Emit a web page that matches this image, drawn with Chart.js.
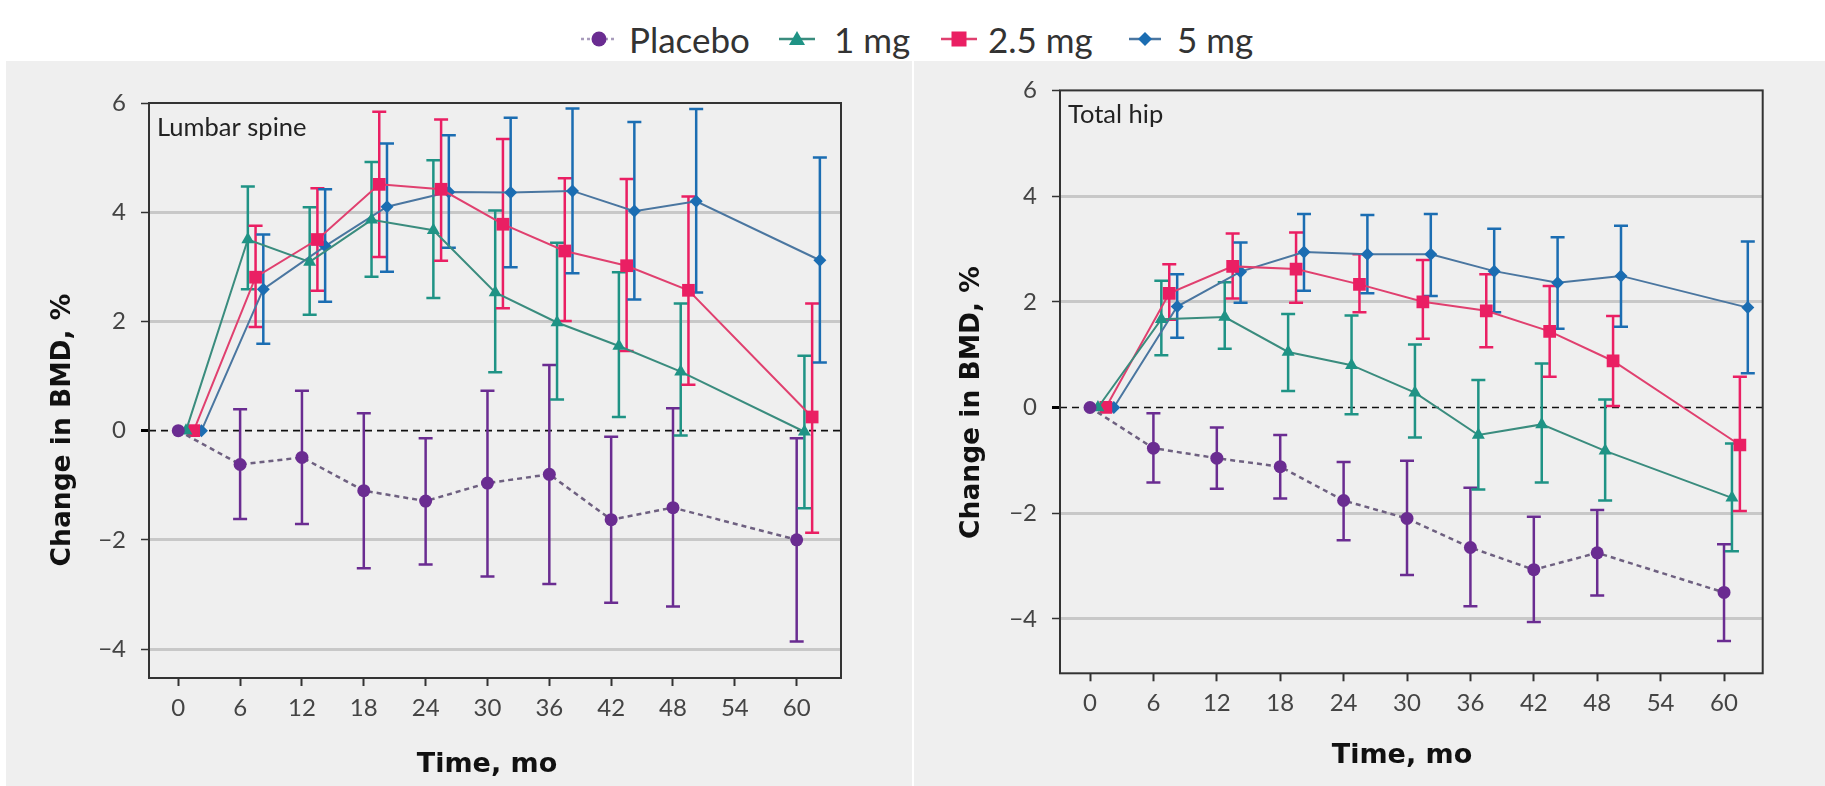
<!DOCTYPE html>
<html>
<head>
<meta charset="utf-8">
<script src="https://cdn.jsdelivr.net/npm/chart.js@4.4.1/dist/chart.umd.min.js"></script>
<style>
html,body{margin:0;padding:0;background:#fff;width:1825px;height:786px;overflow:hidden;font-family:Lato,sans-serif;}
.panel{position:absolute;background:#efefef;}
#p1{left:6px;top:61px;width:906px;height:725px;}
#p2{left:914px;top:61px;width:911px;height:725px;}
.icon{position:absolute;top:28px;}
.ltxt{position:absolute;top:22px;font-family:Lato,sans-serif;font-size:35px;line-height:35px;color:#333;white-space:nowrap;}
</style>
</head>
<body>
<div id="legend">
  <svg class="icon" style="left:581px" width="36" height="22"><line x1="0" y1="11" x2="36" y2="11" stroke="#a89cbc" stroke-width="2.5" stroke-dasharray="3,3"/><circle cx="18" cy="11" r="7.5" fill="#6a2c91"/></svg>
  <span class="ltxt" style="left:629px">Placebo</span>
  <svg class="icon" style="left:779px" width="36" height="22"><line x1="0" y1="11" x2="36" y2="11" stroke="#3a8c7e" stroke-width="2.5"/><polygon points="18,3 26,17 10,17" fill="#1f9385"/></svg>
  <span class="ltxt" style="left:834px">1 mg</span>
  <svg class="icon" style="left:941px" width="36" height="22"><line x1="0" y1="11" x2="36" y2="11" stroke="#e0406f" stroke-width="2.5"/><rect x="10.5" y="3.5" width="15" height="15" fill="#ea1f63"/></svg>
  <span class="ltxt" style="left:988px">2.5 mg</span>
  <svg class="icon" style="left:1129px" width="32" height="22"><line x1="0" y1="11" x2="32" y2="11" stroke="#4a76a0" stroke-width="2.5"/><polygon points="16,4 23,11 16,18 9,11" fill="#1b6db2"/></svg>
  <span class="ltxt" style="left:1177px">5 mg</span>
</div>
<div class="panel" id="p1"><canvas id="c1" width="906" height="725"></canvas></div>
<div class="panel" id="p2"><canvas id="c2" width="911" height="725"></canvas></div>
<script>
// ---------- DATA ----------
const months = [0, 6, 12, 18, 24, 30, 36, 42, 48, 60];
const monthTicks = [0, 6, 12, 18, 24, 30, 36, 42, 48, 54, 60];
const yTicks = [-4, -2, 0, 2, 4, 6];
const seriesNames = ['Placebo', '1 mg', '2.5 mg', '5 mg'];

// Lumbar spine
const spinePlacebo   = [0, -0.62, -0.49, -1.10, -1.29, -0.96, -0.80, -1.63, -1.41, -2.00];
const spinePlaceboLo = [null, -1.62, -1.71, -2.52, -2.45, -2.67, -2.81, -3.15, -3.22, -3.86];
const spinePlaceboHi = [null, 0.39, 0.73, 0.32, -0.14, 0.73, 1.20, -0.11, 0.41, -0.14];
const spine1mg       = [0, 3.50, 3.09, 3.86, 3.67, 2.53, 1.98, 1.55, 1.08, -0.02];
const spine1mgLo     = [null, 2.59, 2.12, 2.82, 2.43, 1.07, 0.57, 0.25, -0.09, -1.42];
const spine1mgHi     = [null, 4.47, 4.09, 4.92, 4.95, 4.03, 3.44, 2.90, 2.33, 1.37];
const spine25mg      = [0, 2.81, 3.50, 4.51, 4.42, 3.78, 3.29, 3.02, 2.57, 0.25];
const spine25mgLo    = [null, 1.90, 2.56, 3.18, 3.11, 2.24, 2.01, 1.46, 0.84, -1.87];
const spine25mgHi    = [null, 3.75, 4.44, 5.84, 5.70, 5.34, 4.62, 4.61, 4.29, 2.33];
const spine5mg       = [0, 2.59, 3.38, 4.10, 4.37, 4.36, 4.39, 4.02, 4.20, 3.12];
const spine5mgLo     = [null, 1.59, 2.36, 2.91, 3.35, 2.99, 2.88, 2.40, 2.53, 1.25];
const spine5mgHi     = [null, 3.59, 4.42, 5.26, 5.41, 5.73, 5.90, 5.65, 5.89, 5.00];

// Total hip
const hipPlacebo   = [0, -0.77, -0.96, -1.12, -1.76, -2.10, -2.65, -3.07, -2.75, -3.50];
const hipPlaceboLo = [null, -1.42, -1.54, -1.72, -2.51, -3.17, -3.76, -4.06, -3.56, -4.42];
const hipPlaceboHi = [null, -0.11, -0.38, -0.52, -1.03, -1.01, -1.52, -2.07, -1.94, -2.59];
const hip1mg       = [0, 1.67, 1.71, 1.05, 0.80, 0.28, -0.52, -0.32, -0.82, -1.71];
const hip1mgLo     = [null, 0.99, 1.11, 0.31, -0.13, -0.57, -1.55, -1.42, -1.76, -2.72];
const hip1mgHi     = [null, 2.40, 2.37, 1.77, 1.74, 1.19, 0.52, 0.83, 0.15, -0.68];
const hip25mg      = [0, 2.16, 2.67, 2.62, 2.33, 2.00, 1.83, 1.44, 0.88, -0.71];
const hip25mgLo    = [null, 1.66, 2.06, 1.98, 1.80, 1.30, 1.14, 0.58, 0.03, -1.96];
const hip25mgHi    = [null, 2.71, 3.29, 3.31, 2.90, 2.79, 2.52, 2.30, 1.73, 0.58];
const hip5mg       = [0, 1.91, 2.57, 2.94, 2.90, 2.90, 2.58, 2.36, 2.49, 1.89];
const hip5mgLo     = [null, 1.32, 1.98, 2.21, 2.16, 2.11, 1.80, 1.49, 1.53, 0.65];
const hip5mgHi     = [null, 2.52, 3.12, 3.66, 3.64, 3.66, 3.38, 3.22, 3.44, 3.14];

// horizontal dodge per series (months)
const dodge = [0, 0.75, 1.5, 2.25];

// ---------- STYLES ----------
const styles = [
  {borderColor:'#6e6080', borderWidth:2.5, borderDash:[5,4], pointStyle:'circle', pointRadius:6.5, pointBackgroundColor:'#6a2c91', pointBorderColor:'#6a2c91', barColor:'#6a2c91'},
  {borderColor:'#3a8c7e', borderWidth:2, pointStyle:'triangle', pointRadius:7.5, pointBackgroundColor:'#1f9385', pointBorderColor:'#1f9385', barColor:'#1f9385'},
  {borderColor:'#e0406f', borderWidth:2, pointStyle:'rect', pointRadius:9, pointBackgroundColor:'#ea1f63', pointBorderColor:'#ea1f63', barColor:'#ea1f63'},
  {borderColor:'#4a76a0', borderWidth:2, pointStyle:'rectRot', pointRadius:6.5, pointBackgroundColor:'#1b6db2', pointBorderColor:'#1b6db2', barColor:'#1b6db2'}
];

function makeDatasets(vals, los, his) {
  return vals.map((v, s) => Object.assign({
    label: seriesNames[s],
    data: months.map((m, i) => ({x: m + dodge[s], y: v[i]})),
    errLo: los[s], errHi: his[s],
    fill:false, tension:0, pointBorderWidth:0
  }, styles[s]));
}

const decoPlugin = {
  id: 'deco',
  beforeDatasetsDraw(chart, args, o) {
    const {ctx, chartArea:a, scales:{x, y}} = chart;
    ctx.save();
    const y0 = y.getPixelForValue(0);
    ctx.beginPath();
    ctx.setLineDash([7,5]);
    ctx.lineWidth = 1.6;
    ctx.strokeStyle = '#111';
    ctx.moveTo(a.left, y0); ctx.lineTo(a.right, y0);
    ctx.stroke();
    ctx.setLineDash([]);
    chart.data.datasets.forEach(ds => {
      ctx.strokeStyle = ds.barColor;
      ctx.lineWidth = 2.5;
      ds.data.forEach((p, i) => {
        if (ds.errLo[i] == null) return;
        const px = x.getPixelForValue(p.x);
        const yl = y.getPixelForValue(ds.errLo[i]);
        const yh = y.getPixelForValue(ds.errHi[i]);
        ctx.beginPath();
        ctx.moveTo(px, yl); ctx.lineTo(px, yh);
        ctx.moveTo(px - 7, yl); ctx.lineTo(px + 7, yl);
        ctx.moveTo(px - 7, yh); ctx.lineTo(px + 7, yh);
        ctx.stroke();
      });
    });
    ctx.restore();
  },
  afterDraw(chart, args, o) {
    const {ctx, chartArea:a} = chart;
    ctx.save();
    ctx.strokeStyle = '#333';
    ctx.lineWidth = 2;
    ctx.strokeRect(a.left, a.top, a.right - a.left, a.bottom - a.top);
    ctx.fillStyle = '#222';
    ctx.font = '25.5px Lato';
    ctx.textAlign = 'left';
    ctx.textBaseline = 'alphabetic';
    ctx.fillText(o.label, a.left + 8, a.top + 33);
    ctx.fillStyle = '#111';
    ctx.font = 'bold 27px "DejaVu Sans"';
    ctx.textAlign = 'center';
    ctx.fillText('Time, mo', o.xTitle[0], o.xTitle[1]);
    ctx.translate(o.yTitle[0], o.yTitle[1]);
    ctx.rotate(-Math.PI / 2);
    ctx.font = 'bold 26.5px "DejaVu Sans"';
    ctx.textBaseline = 'middle';
    ctx.fillText('Change in BMD, %', 0, 0);
    ctx.restore();
  }
};

function makeChart(id, datasets, cfg) {
  return new Chart(document.getElementById(id), {
    type: 'line',
    data: {datasets},
    plugins: [decoPlugin],
    options: {
      responsive:false, animation:false, devicePixelRatio:1,
      layout: {padding: {left:0, top:cfg.padTop, right:cfg.padRight, bottom:0}},
      plugins: {
        legend:{display:false}, tooltip:{enabled:false},
        deco: {label:cfg.label, xTitle:cfg.xTitle, yTitle:cfg.yTitle}
      },
      scales: {
        x: {
          type:'linear', min:cfg.xMin, max:cfg.xMax,
          afterBuildTicks: s => { s.ticks = monthTicks.map(v => ({value:v})); },
          afterFit: s => { s.height = cfg.xAxisH; },
          grid: {drawOnChartArea:false, drawTicks:true, tickLength:8, tickColor:'#333', tickWidth:2},
          border: {display:false},
          ticks: {font:{family:'Lato', size:24}, color:'#444', padding:8, maxRotation:0, autoSkip:false}
        },
        y: {
          type:'linear', min:cfg.yMin, max:cfg.yMax,
          afterBuildTicks: s => { s.ticks = yTicks.map(v => ({value:v})); },
          afterFit: s => { s.width = cfg.yAxisW; },
          grid: {
            color: c => (c.tick && c.tick.value !== 0 && c.tick.value !== 6) ? '#c8c8c8' : 'rgba(0,0,0,0)',
            lineWidth: 3,
            drawTicks:true, tickLength:8,
            tickColor: c => (c.tick && c.tick.value === 0) ? '#000' : '#333',
            tickWidth: c => (c.tick && c.tick.value === 0) ? 3 : 1.5
          },
          border: {display:false},
          ticks: {font:{family:'Lato', size:24}, color:'#444', padding:15,
                  callback: v => (v < 0 ? '\u2212' + Math.abs(v) : String(v))}
        }
      }
    }
  });
}

makeChart('c1',
  makeDatasets([spinePlacebo, spine1mg, spine25mg, spine5mg],
               [spinePlaceboLo, spine1mgLo, spine25mgLo, spine5mgLo],
               [spinePlaceboHi, spine1mgHi, spine25mgHi, spine5mgHi]),
  {label:'Lumbar spine', xMin:-2.84, xMax:64.3, yMin:-4.53, yMax:6,
   padTop:42, padRight:71, xAxisH:108, yAxisW:143,
   xTitle:[481, 711], yTitle:[57.5, 369]});

makeChart('c2',
  makeDatasets([hipPlacebo, hip1mg, hip25mg, hip5mg],
               [hipPlaceboLo, hip1mgLo, hip25mgLo, hip5mgLo],
               [hipPlaceboHi, hip1mgHi, hip25mgHi, hip5mgHi]),
  {label:'Total hip', xMin:-2.84, xMax:63.66, yMin:-5.03, yMax:6,
   padTop:25.7, padRight:62.3, xAxisH:112.7, yAxisW:146,
   xTitle:[488, 702], yTitle:[58, 341.5]});
</script>
</body>
</html>
